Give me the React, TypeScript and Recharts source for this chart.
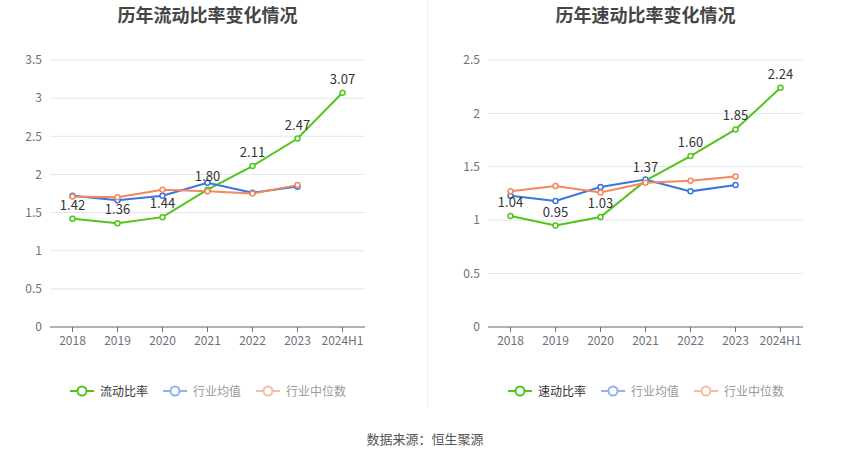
import React from 'react';
import { LineChart, Line, XAxis, YAxis, CartesianGrid, LabelList } from 'recharts';

const years = ['2018', '2019', '2020', '2021', '2022', '2023', '2024H1'];

// 流动比率
const currentRatio = [1.42, 1.36, 1.44, 1.8, 2.11, 2.47, 3.07];
const currentAvg = [1.72, 1.66, 1.72, 1.89, 1.76, 1.84, null];
const currentMedian = [1.71, 1.7, 1.8, 1.78, 1.75, 1.86, null];
const currentTicks = [0, 0.5, 1, 1.5, 2, 2.5, 3, 3.5];

// 速动比率
const quickRatio = [1.04, 0.95, 1.03, 1.37, 1.6, 1.85, 2.24];
const quickAvg = [1.23, 1.18, 1.31, 1.38, 1.27, 1.33, null];
const quickMedian = [1.27, 1.32, 1.26, 1.35, 1.37, 1.41, null];
const quickTicks = [0, 0.5, 1, 1.5, 2, 2.5];

const GREEN = '#52c41a';
const BLUE = '#3a75e0';
const ORANGE = '#f4875e';
const FONT = '"Noto Sans CJK SC", "Noto Sans", sans-serif';

const buildRows = (main: number[], avg: (number | null)[], median: (number | null)[]) =>
  years.map((name, i) => ({ name, main: main[i], avg: avg[i], median: median[i] }));

const dot = (color: string) => ({ r: 2.5, stroke: color, strokeWidth: 1.5, fill: '#fff' });

const LegendItem = ({ color, label, faded }: { color: string; label: string; faded?: boolean }) => (
  <div style={{ display: 'flex', alignItems: 'center', marginRight: 14 }}>
    <svg width={26} height={14} style={{ marginRight: 5, opacity: faded ? 0.55 : 1 }}>
      <line x1={1} y1={7} x2={25} y2={7} stroke={color} strokeWidth={2} />
      <circle cx={13} cy={7} r={4.5} stroke={color} strokeWidth={2} fill="#fff" />
    </svg>
    <span style={{ fontSize: 12, color: faded ? '#999' : '#333' }}>{label}</span>
  </div>
);

type PanelProps = {
  left: number;
  width: number;
  yWidth: number;
  right: number;
  title: string;
  mainName: string;
  rows: ReturnType<typeof buildRows>;
  ticks: number[];
  max: number;
};

const Panel = ({ left, width, yWidth, right, title, mainName, rows, ticks, max }: PanelProps) => {
  const plotCenter = yWidth + (width - yWidth - right) / 2;
  return (
    <div style={{ position: 'absolute', left, top: 0, width, height: 459 }}>
      <div
        style={{
          position: 'absolute',
          top: 1,
          left: plotCenter - 150,
          width: 300,
          textAlign: 'center',
          fontSize: 18,
          fontWeight: 'bold',
          color: '#464646',
        }}
      >
        {title}
      </div>
      <LineChart
        width={width}
        height={360}
        data={rows}
        margin={{ top: 60, right, bottom: 3, left: 0 }}
        style={{ position: 'absolute', top: 0, left: 0 }}
      >
        <CartesianGrid vertical={false} stroke="#e0e6f1" />
        <XAxis
          dataKey="name"
          height={30}
          padding={{ left: 22.5, right: 22.5 }}
          tick={{ fontSize: 12, fill: '#6e7079' }}
          tickLine={{ stroke: '#6e7079' }}
          tickSize={5}
          tickMargin={4}
          axisLine={{ stroke: '#6e7079' }}
          interval={0}
        />
        <YAxis
          width={yWidth}
          domain={[0, max]}
          ticks={ticks}
          axisLine={false}
          tickLine={false}
          tick={{ fontSize: 12, fill: '#6e7079' }}
        />
        <Line
          dataKey="main"
          stroke={GREEN}
          strokeWidth={2}
          dot={dot(GREEN)}
          isAnimationActive={false}
        >
          <LabelList dataKey="main" position="top" offset={9} fontSize={13} fill="#333" formatter={(v: number) => v.toFixed(2)} />
        </Line>
        <Line dataKey="avg" stroke={BLUE} strokeWidth={2} dot={dot(BLUE)} isAnimationActive={false} />
        <Line dataKey="median" stroke={ORANGE} strokeWidth={2} dot={dot(ORANGE)} isAnimationActive={false} />
      </LineChart>
      <div
        style={{
          position: 'absolute',
          top: 382,
          left: 0,
          width: plotCenter * 2,
          display: 'flex',
          justifyContent: 'center',
          paddingLeft: 14,
          boxSizing: 'border-box',
        }}
      >
        <LegendItem color={GREEN} label={mainName} />
        <LegendItem color={BLUE} label="行业均值" faded />
        <LegendItem color={ORANGE} label="行业中位数" faded />
      </div>
    </div>
  );
};

export default function App() {
  return (
    <div
      style={{
        position: 'absolute',
        left: 0,
        top: 0,
        width: 850,
        height: 459,
        background: '#fff',
        fontFamily: FONT,
        overflow: 'hidden',
      }}
    >
      <Panel
        left={0}
        width={425}
        yWidth={50}
        right={60}
        title="历年流动比率变化情况"
        mainName="流动比率"
        rows={buildRows(currentRatio, currentAvg, currentMedian)}
        ticks={currentTicks}
        max={3.5}
      />
      <div style={{ position: 'absolute', left: 427, top: 0, width: 1, height: 408, background: '#f0f0f0' }} />
      <Panel
        left={430}
        width={420}
        yWidth={58}
        right={47}
        title="历年速动比率变化情况"
        mainName="速动比率"
        rows={buildRows(quickRatio, quickAvg, quickMedian)}
        ticks={quickTicks}
        max={2.5}
      />
      <div
        style={{
          position: 'absolute',
          top: 429,
          left: 0,
          width: 850,
          textAlign: 'center',
          fontSize: 13,
          color: '#555',
        }}
      >
        数据来源：恒生聚源
      </div>
    </div>
  );
}
